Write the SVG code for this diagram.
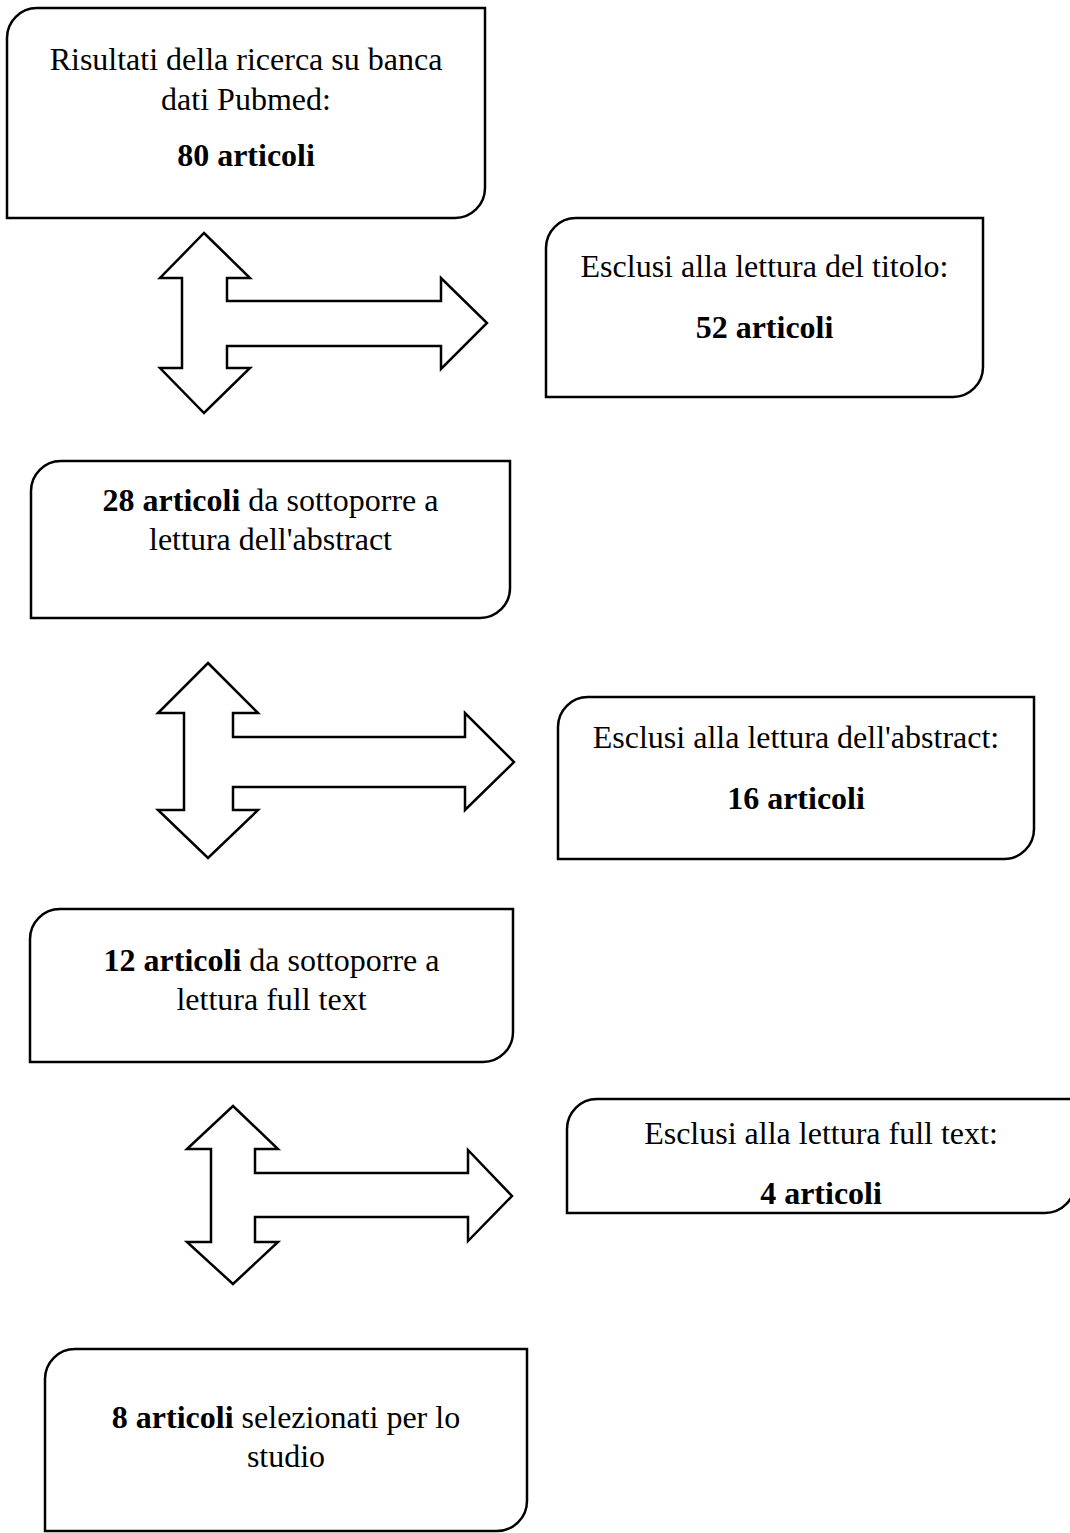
<svg xmlns="http://www.w3.org/2000/svg" width="1070" height="1533" viewBox="0 0 1070 1533">
<style>
.box{fill:#fff;stroke:#000;stroke-width:2.5}
.arr{fill:#fff;stroke:#000;stroke-width:2.5;stroke-linejoin:miter}
text{font-family:"Liberation Serif","Times New Roman",serif;font-size:32px;fill:#000;text-anchor:middle}
.b{font-weight:bold}
</style>
<rect width="1070" height="1533" fill="#fff"/>
<g id="connectors">
<path class="arr" d="M204,233 L250,278 L227,278 L227,301 L441,301 L441,278 L487,323 L441,369 L441,346 L227,346 L227,368 L250,368 L204,413 L160,368 L182,368 L182,278 L160,278 Z"/>
<path class="arr" d="M208,663 L258,713 L233,713 L233,737 L465,737 L465,713 L514,762 L465,810 L465,787 L233,787 L233,810 L258,810 L208,858 L158,810 L184,810 L184,713 L158,713 Z"/>
<path class="arr" d="M233,1106 L278,1149 L255,1149 L255,1173 L468,1173 L468,1150 L512,1196 L468,1241 L468,1217 L255,1217 L255,1242 L278,1242 L233,1284 L187,1242 L211,1242 L211,1149 L187,1149 Z"/>
</g>
<g id="n1">
<path class="box" d="M7,38 A30,30 0 0 1 37,8 H485 V188 A30,30 0 0 1 455,218 H7 Z"/>
<text x="246" y="70">Risultati della ricerca su banca</text>
<text x="246" y="110">dati Pubmed:</text>
<text x="246" y="166" class="b">80 articoli</text>
</g>
<g id="n2">
<path class="box" d="M546,248 A30,30 0 0 1 576,218 H983 V367 A30,30 0 0 1 953,397 H546 Z"/>
<text x="764.5" y="277">Esclusi alla lettura del titolo:</text>
<text x="764.5" y="338" class="b">52 articoli</text>
</g>
<g id="n3">
<path class="box" d="M31,491 A30,30 0 0 1 61,461 H510 V588 A30,30 0 0 1 480,618 H31 Z"/>
<text x="270.5" y="511"><tspan class="b">28 articoli</tspan> da sottoporre a</text>
<text x="270.5" y="550">lettura dell'abstract</text>
</g>
<g id="n4">
<path class="box" d="M558,727 A30,30 0 0 1 588,697 H1034 V829 A30,30 0 0 1 1004,859 H558 Z"/>
<text x="796" y="748">Esclusi alla lettura dell'abstract:</text>
<text x="796" y="809" class="b">16 articoli</text>
</g>
<g id="n5">
<path class="box" d="M30,939 A30,30 0 0 1 60,909 H513 V1032 A30,30 0 0 1 483,1062 H30 Z"/>
<text x="271.5" y="971"><tspan class="b">12 articoli</tspan> da sottoporre a</text>
<text x="271.5" y="1010">lettura full text</text>
</g>
<g id="n6">
<path class="box" d="M567,1129 A30,30 0 0 1 597,1099 H1075 V1183 A30,30 0 0 1 1045,1213 H567 Z"/>
<text x="821" y="1144">Esclusi alla lettura full text:</text>
<text x="821" y="1204" class="b">4 articoli</text>
</g>
<g id="n7">
<path class="box" d="M45,1379 A30,30 0 0 1 75,1349 H527 V1501 A30,30 0 0 1 497,1531 H45 Z"/>
<text x="286" y="1428"><tspan class="b">8 articoli</tspan> selezionati per lo</text>
<text x="286" y="1467">studio</text>
</g>
</svg>
